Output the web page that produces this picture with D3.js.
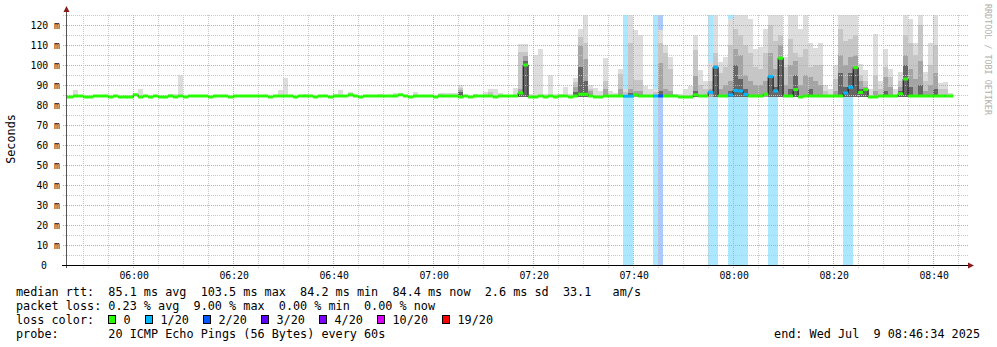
<!DOCTYPE html>
<html><head><meta charset="utf-8">
<script src="https://cdn.jsdelivr.net/npm/d3@7"></script>
<style>
body{margin:0;background:#fff}
svg{display:block}
text{font-family:"DejaVu Sans Mono",monospace;white-space:pre}
</style>
</head><body>
<svg id="c" width="997" height="347"></svg>
<script>
// ---------------- DATA ----------------
// one slot per minute, starting 05:46 (index 0) up to 08:46 (index 180)
const firstSlot = [2025, 6, 9, 5, 46];
const median = [
 84.0,84.0,84.5,84.5,84.0,84.0,84.5,84.5,84.5,84.0,
 84.5,84.0,84.0,84.0,85.1,84.0,84.5,84.0,84.5,84.0,
 84.0,84.5,84.0,84.5,84.0,84.5,84.5,84.5,84.5,84.0,
 84.5,84.5,84.5,84.0,84.5,84.5,84.5,84.5,84.5,84.5,
 84.5,84.0,84.5,84.5,84.5,84.5,84.0,84.5,84.5,84.5,
 84.0,84.5,84.5,84.0,84.5,84.5,84.5,85.1,84.5,84.0,
 84.5,84.5,84.5,84.5,84.5,84.5,84.5,85.1,84.5,84.0,
 84.5,84.5,84.5,84.5,84.0,84.5,84.5,84.5,84.5,84.0,
 84.5,84.0,84.5,84.5,84.5,84.5,84.0,84.5,84.5,84.5,
 84.5,86.0,100.0,84.0,84.0,84.5,84.0,84.5,84.0,84.5,
 84.5,84.0,84.5,85.4,85.4,84.5,84.0,84.0,84.5,84.5,
 84.5,84.5,84.4,84.4,85.1,84.5,84.5,84.5,84.5,84.5,
 84.5,84.5,84.5,84.0,84.0,84.0,85.1,84.5,84.5,86.3,
 98.9,84.5,84.5,85.0,87.3,87.0,85.3,84.5,84.5,84.5,
 85.4,94.2,87.0,103.4,84.5,84.5,87.7,84.0,84.5,84.5,
 84.5,84.5,84.5,84.5,84.5,84.5,86.0,88.9,98.7,86.3,
 87.7,84.0,84.0,84.5,84.5,84.5,84.5,85.6,93.0,84.5,
 84.5,84.5,84.5,84.5,84.5,84.5,84.5,84.5,null,null,null
];
// lost pings out of 20 per slot
const loss = [
 0,0,0,0,0,0,0,0,0,0, 0,0,0,0,0,0,0,0,0,0,
 0,0,0,0,0,0,0,0,0,0, 0,0,0,0,0,0,0,0,0,0,
 0,0,0,0,0,0,0,0,0,0, 0,0,0,0,0,0,0,0,0,0,
 0,0,0,0,0,0,0,0,0,0, 0,0,0,0,0,0,0,0,0,0,
 0,0,0,0,0,0,0,0,0,0, 0,0,0,0,0,0,0,0,0,0,
 0,0,0,0,0,0,0,0,0,0, 0,0,1,1,0,0,0,0,1,2,
 0,0,0,0,0,0,0,0,0,1, 1,0,0,1,1,1,1,0,0,0,
 0,1,1,0,0,0,0,0,0,0, 0,0,0,0,0,0,1,1,0,0,
 0,0,0,0,0,0,0,0,0,0, 0,0,0,0,0,0,0,0,0,0,0
];
// smoke: top of each shading layer (0 = none), light -> dark
const smokeMax = [
 0,0,87.3,0,0,0,0,0,0,0,
 0,0,0,0,0,87.8,0,0,0,0,
 0,85.3,85.7,95,0,0,0,0,0,0,
 0,0,0,0,0,0,0,0,0,0,
 0,0,0,87.3,93.4,0,0,0,85.3,0,
 0,0,0,0,85.3,87.3,0,86.7,0,0,
 0,0,0,85.3,0,0,86,0,0,0,
 86.7,0,0,0,0,85.8,85.8,85.8,85.8,89.9,
 0,0,85.3,0,86.7,87.8,87.8,85.8,0,0,
 88.7,110.4,110.4,85.5,104.9,107.9,85.5,94.9,85.5,85.5,
 89,85.5,93.4,118,126,89.9,88.6,87,103.4,87,
 86,97.9,88,126,117.5,115,89.6,88,88,117.5,
 110,104,85.5,85.5,88,89.3,115,97.4,92,101,
 126,101.4,104,123,126,126,126,123,108,108.8,
 118,126,126,126,104,126,126,118,126,111,
 108.5,111,90,88,100,126,126,126,126,100.4,
 97.5,88,115.4,92,108,98,88,96.7,126,123,
 110.8,126,96.7,110.8,126,91,91.5,86,0,0,0
];
const smokeL2 = [
 0,0,0,0,0,0,0,0,0,0, 0,0,0,0,0,0,0,0,0,0,
 0,0,0,0,0,0,0,0,0,0, 0,0,0,0,0,0,0,0,0,0,
 0,0,0,0,0,0,0,0,0,0, 0,0,0,0,0,0,0,0,0,0,
 0,0,0,0,0,0,0,0,0,0,
 0,0,0,0,0,85.6,0,0,0,88.5,
 0,0,0,0,0,86.7,0,0,0,0,
 0,106.6,106.6,0,0,0,0,0,0,0,
 0,0,91.5,113.8,111,88,0,0,92,0,
 0,95.4,86.5,111,92.5,92.5,0,0,86.5,111,
 106,98,0,0,0,0,107.6,90,88,92,
 106,96,99,110,118,115,110,106,99,98,
 106,120,112,115,99,113,106,104,108,99,
 100,100,87,0,93,118,112,113,115,95,
 92,0,95,88,99,94,0,92,115,111,
 105,120,92,100,110,88,88,0,0,0,0
];
const smokeL3 = [
 0,0,0,0,0,0,0,0,0,0, 0,0,0,0,0,0,0,0,0,0,
 0,0,0,0,0,0,0,0,0,0, 0,0,0,0,0,0,0,0,0,0,
 0,0,0,0,0,0,0,0,0,0, 0,0,0,0,0,0,0,0,0,0,
 0,0,0,0,0,0,0,0,0,0,
 0,0,0,0,0,0,0,0,0,87.5,
 0,0,0,0,0,0,0,0,0,0,
 0,88,104.6,0,0,0,0,0,0,0,
 0,0,89,109.6,103,87,0,0,88,0,
 0,88,0,88,87,87,0,0,0,101,
 88,87,0,0,0,0,94.7,0,0,88,
 100,88,90,92,108,105,95,92,90,90,
 92,106,98,110,90,100,102,90,95,94,
 92,90,0,0,87,105,100,104,105,92,
 89,0,87,0,94,89,0,89,105,98,
 93,102,87,90,96,0,0,0,0,0,0
];
const smokeL4 = [
 0,0,0,0,0,0,0,0,0,0, 0,0,0,0,0,0,0,0,0,0,
 0,0,0,0,0,0,0,0,0,0, 0,0,0,0,0,0,0,0,0,0,
 0,0,0,0,0,0,0,0,0,0, 0,0,0,0,0,0,0,0,0,0,
 0,0,0,0,0,0,0,0,0,0,
 0,0,0,0,0,0,0,0,0,86.5,
 0,0,0,0,0,0,0,0,0,0,
 0,86.5,102,0,0,0,0,0,0,0,
 0,0,86.5,99,92,0,0,0,0,0,
 0,0,0,86,0,0,0,0,0,87,
 0,0,0,0,0,0,87,0,0,0,
 98.7,0,0,87,100,93,88,0,0,0,
 0,94,89,103.4,0,88,95,0,0,88,
 0,0,0,0,0,96,89,96,98.7,88,
 88,0,0,0,87,0,0,87,100,89,
 0,90,0,0,88,0,0,0,0,0,0
];
const smokeFloor = 84.0;
const yTicks = [0,10,20,30,40,50,60,70,80,90,100,110,120];
const yTickLabels = ["0","10 m","20 m","30 m","40 m","50 m","60 m","70 m","80 m","90 m","100 m","110 m","120 m"];
const xTickLabels = ["06:00","06:20","06:40","07:00","07:20","07:40","08:00","08:20","08:40"];
const lossLabels = ["0","1/20","2/20","3/20","4/20","10/20","19/20"];
const lossColors = ["#26ff00","#00b8ff","#0059ff","#5e00ff","#7e00ff","#dd00ff","#ff0000"];
const legendLines = [
 "median rtt:  85.1 ms avg  103.5 ms max  84.2 ms min  84.4 ms now  2.6 ms sd  33.1   am/s",
 "packet loss: 0.23 % avg  9.00 % max  0.00 % min  0.00 % now",
 "loss color:",
 "probe:       20 ICMP Echo Pings (56 Bytes) every 60s"
];
const endText = "end: Wed Jul  9 08:46:34 2025";

// ---------------- LAYOUT ----------------
const svg = d3.select("#c");
const L = 66, R = 966, T = 15, B = 265;
const startT = new Date(2025,6,9,5,46,34), endT = new Date(2025,6,9,8,46,34);
const x = d3.scaleTime().domain([startT,endT]).range([L,R]);
const y = d3.scaleLinear().domain([0,125]).range([B,T]);
const slotStart = i => new Date(firstSlot[0],firstSlot[1],firstSlot[2],firstSlot[3],firstSlot[4]+i,0);
const lossIdx = n => n<=0?0:n===1?1:n===2?2:n===3?3:n<10?4:n<19?5:6;

svg.append("rect").attr("width",997).attr("height",347).attr("fill","#fff");
svg.append("clipPath").attr("id","pc").append("rect").attr("x",L).attr("y",T).attr("width",R-L).attr("height",B-T);
const plot = svg.append("g").attr("clip-path","url(#pc)").attr("shape-rendering","crispEdges");

// loss bands
const idx = d3.range(median.length);
plot.selectAll("rect.band").data(idx.filter(i=>loss[i]>0)).join("rect")
 .attr("x",i=>x(slotStart(i))).attr("width",i=>x(slotStart(i+1))-x(slotStart(i)))
 .attr("y",T).attr("height",B-T)
 .attr("fill",i=>lossColors[lossIdx(loss[i])]).attr("fill-opacity",0.33);

// smoke layers
const layers = [[smokeMax,"#dddddd"],[smokeL2,"#c6c6c6"],[smokeL3,"#a4a4a4"],[smokeL4,"#666666"]];
layers.forEach(([arr,col])=>{
  plot.append("g").selectAll("rect").data(idx.filter(i=>arr[i]>0)).join("rect")
   .attr("x",i=>x(slotStart(i))).attr("width",i=>x(slotStart(i+1))-x(slotStart(i)))
   .attr("y",i=>y(arr[i])).attr("height",i=>y(smokeFloor)-y(arr[i]))
   .attr("fill",col);
});

// grid
const grid = svg.append("g").attr("shape-rendering","crispEdges");
const hMinor = d3.range(5,126,10), hMajor = yTicks.filter(v=>v>0);
grid.selectAll("line.hmin").data(hMinor).join("line")
 .attr("x1",L-3).attr("x2",R+3).attr("y1",v=>Math.round(y(v))+0.5).attr("y2",v=>Math.round(y(v))+0.5)
 .attr("stroke","#c8c8c8").attr("stroke-dasharray","1,1");
grid.selectAll("line.hmaj").data(hMajor).join("line")
 .attr("x1",L-3).attr("x2",R+3).attr("y1",v=>Math.round(y(v))+0.5).attr("y2",v=>Math.round(y(v))+0.5)
 .attr("stroke","#e89a9a").attr("stroke-dasharray","1,1");
const minorT = d3.timeMinute.every(5).range(startT,endT).filter(d=>d.getMinutes()%20!==0);
const majorT = d3.timeMinute.every(20).range(startT,endT);
grid.selectAll("line.vmin").data(minorT).join("line")
 .attr("x1",d=>Math.floor(x(d))+0.5).attr("x2",d=>Math.floor(x(d))+0.5).attr("y1",T).attr("y2",B+3)
 .attr("stroke","#c8c8c8").attr("stroke-dasharray","1,1");
grid.selectAll("line.vmaj").data(majorT).join("line")
 .attr("x1",d=>Math.floor(x(d))+0.5).attr("x2",d=>Math.floor(x(d))+0.5).attr("y1",T).attr("y2",B+3)
 .attr("stroke","#e89a9a").attr("stroke-dasharray","1,1");

// median: thin dark step line + loss coloured segments
const pts = idx.filter(i=>median[i]!=null).map(i=>[x(slotStart(i)),y(median[i])]);
const lastI = d3.max(idx.filter(i=>median[i]!=null));
pts.push([x(slotStart(lastI+1)),y(median[lastI])]);
const mg = svg.append("g").attr("clip-path","url(#pc)");
mg.append("path").attr("d",d3.line().curve(d3.curveStepAfter)(pts))
 .attr("fill","none").attr("stroke","#111").attr("stroke-width",1);
mg.selectAll("line.med").data(idx.filter(i=>median[i]!=null)).join("line")
 .attr("x1",i=>x(slotStart(i))).attr("x2",i=>x(slotStart(i+1)))
 .attr("y1",i=>y(median[i])).attr("y2",i=>y(median[i]))
 .attr("stroke",i=>lossColors[lossIdx(loss[i])]).attr("stroke-width",3);

// axes
const ax = svg.append("g").attr("shape-rendering","crispEdges");
ax.append("line").attr("x1",L+0.5).attr("x2",L+0.5).attr("y1",B+3).attr("y2",10).attr("stroke","#555");
ax.append("line").attr("x1",L-4).attr("x2",R+4).attr("y1",B+0.5).attr("y2",B+0.5).attr("stroke","#000");
svg.append("path").attr("d",`M${L-2.5},${12} L${L+3.5},${12} L${L+0.5},${6} Z`).attr("fill","#8b1a1a");
svg.append("path").attr("d",`M${R+2},${B-2.5} L${R+2},${B+3.5} L${R+8},${B+0.5} Z`).attr("fill","#8b1a1a");

// y tick labels
svg.append("g").selectAll("text").data(yTicks).join("text")
 .attr("x",(v,i)=>v===0?47:60).attr("y",v=>y(v)+3.8).attr("text-anchor","end")
 .attr("font-size","9.8px").attr("fill","#000").text((v,i)=>yTickLabels[i]);
// x tick labels
const parseHM = s => { const [h,m]=s.split(":").map(Number); return new Date(2025,6,9,h,m,0); };
svg.append("g").selectAll("text").data(xTickLabels).join("text")
 .attr("x",s=>x(parseHM(s))+1).attr("y",279).attr("text-anchor","middle")
 .attr("font-size","9.8px").attr("fill","#000").text(s=>s);

// titles
svg.append("text").attr("transform","translate(14.5,139) rotate(-90)").attr("text-anchor","middle")
 .attr("font-size","11.8px").text("Seconds");
svg.append("text").attr("transform","translate(984.5,4) rotate(90)").attr("font-size","8.4px")
 .attr("fill","#b0b0b0").text("RRDTOOL / TOBI OETIKER");

// legend
const lineY = [295.5,309.5,323.5,337.5];
legendLines.forEach((s,k)=>{
  svg.append("text").attr("x",16).attr("y",lineY[k]).attr("font-size","11.8px")
   .attr("xml:space","preserve").text(s);
});
const sqX = [108.5,145.5,203.5,261.5,319.5,377.5,442.5];
lossLabels.forEach((lab,k)=>{
  svg.append("rect").attr("x",sqX[k]).attr("y",315.5).attr("width",7).attr("height",8)
   .attr("fill",lossColors[k]).attr("stroke","#000").attr("stroke-width",1);
  svg.append("text").attr("x",sqX[k]+15).attr("y",lineY[2]).attr("font-size","11.8px").text(lab);
});
svg.append("text").attr("x",980).attr("y",lineY[3]).attr("text-anchor","end").attr("font-size","11.8px")
 .attr("xml:space","preserve").text(endText);
</script>
</body></html>
